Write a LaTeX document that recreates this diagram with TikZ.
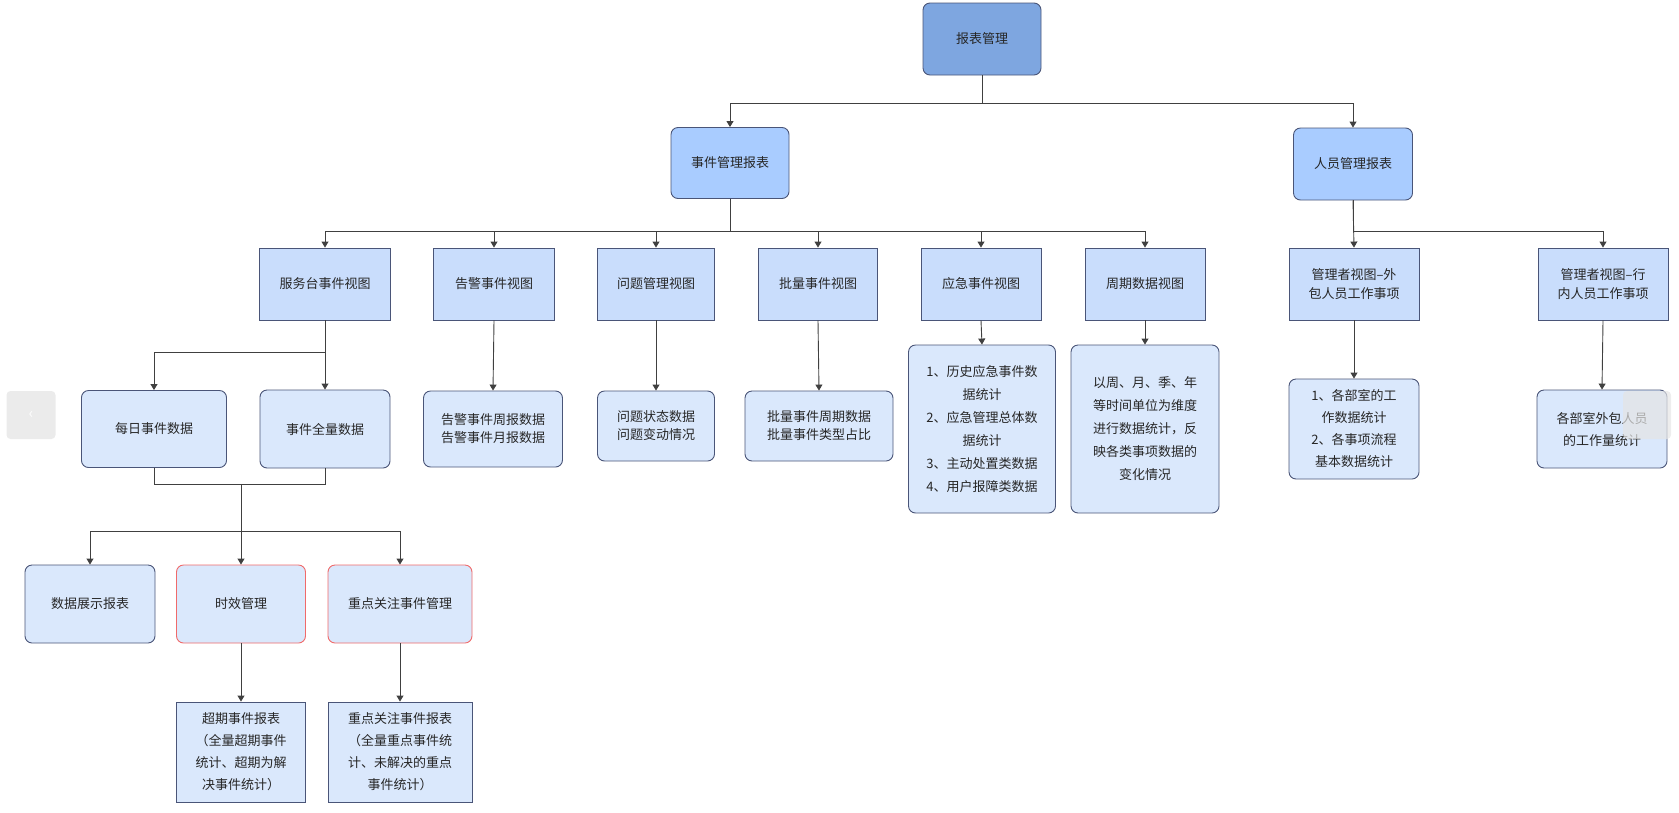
\documentclass[tikz,border=0pt]{standalone}
\usepackage{fontspec}
\setmainfont{Noto Sans CJK SC}
\usetikzlibrary{arrows.meta}
\definecolor{bd}{HTML}{4A5578}
\definecolor{ftop}{HTML}{7EA6E0}
\definecolor{fl2}{HTML}{A9CCFF}
\definecolor{fl3}{HTML}{C9DDFC}
\definecolor{fl4}{HTML}{DAE8FC}
\definecolor{rd}{HTML}{F06A6A}
\tikzset{
 box/.style={draw=bd,line width=0.9pt,align=center,font=\fontsize{13}{19}\selectfont,text=black!85,inner sep=2pt},
 rbox/.style={box,rounded corners=7pt},
 arr/.style={draw=black!75,line width=0.9pt,-{Triangle[width=7pt,length=6pt]}},
 ln/.style={draw=black!75,line width=0.9pt}
}
\begin{document}
\begin{tikzpicture}[x=1pt,y=-1pt]
\useasboundingbox (0,0) rectangle (1679,812);
\node[rbox,fill=ftop,minimum width=118,minimum height=72] (top) at (982,39) {报表管理};
\node[rbox,fill=fl2,minimum width=118,minimum height=71] (ev) at (730,163) {事件管理报表};
\node[rbox,fill=fl2,minimum width=119,minimum height=72] (ry) at (1353,164) {人员管理报表};
\foreach \n/\x/\w/\t in {fwt/325/131/服务台事件视图, gj/494/121/告警事件视图, wt/656/117/问题管理视图, pl/818/119/批量事件视图, yj/981/120/应急事件视图, zq/1145/120/周期数据视图}
  \node[box,fill=fl3,minimum width=\w,minimum height=72] (\n) at (\x,284) {\t};
\node[box,fill=fl3,minimum width=130,minimum height=72] (wb) at (1354,284) {管理者视图--外\\包人员工作事项};
\node[box,fill=fl3,minimum width=130,minimum height=72] (hn) at (1603,284) {管理者视图--行\\内人员工作事项};
\node[rbox,fill=fl4,minimum width=145,minimum height=77] (mr) at (154,429) {每日事件数据};
\node[rbox,fill=fl4,minimum width=130,minimum height=78] (ql) at (325,429) {事件全量数据};
\node[rbox,fill=fl4,minimum width=139,minimum height=76,font=\fontsize{13}{18}\selectfont] (gjb) at (493,429) {告警事件周报数据\\告警事件月报数据};
\node[rbox,fill=fl4,minimum width=117,minimum height=70,font=\fontsize{13}{18}\selectfont] (wtb) at (656,426) {问题状态数据\\问题变动情况};
\node[rbox,fill=fl4,minimum width=148,minimum height=70,font=\fontsize{13}{18}\selectfont] (plb) at (819,426) {批量事件周期数据\\批量事件类型占比};
\node[rbox,fill=fl4,minimum width=147,minimum height=168,font=\fontsize{13}{23}\selectfont] (yjb) at (982,429) {1、历史应急事件数\\据统计\\2、应急管理总体数\\据统计\\3、主动处置类数据\\4、用户报障类数据};
\node[rbox,fill=fl4,minimum width=148,minimum height=168,font=\fontsize{13}{23}\selectfont] (zqb) at (1145,429) {以周、月、季、年\\等时间单位为维度\\进行数据统计，反\\映各类事项数据的\\变化情况};
\node[rbox,fill=fl4,minimum width=130,minimum height=100,font=\fontsize{13}{22}\selectfont] (wbb) at (1354,429) {1、各部室的工\\作数据统计\\2、各事项流程\\基本数据统计};
\node[rbox,fill=fl4,minimum width=130,minimum height=78,font=\fontsize{13}{22}\selectfont] (hnb) at (1602,429) {各部室外包人员\\的工作量统计};
\node[rbox,fill=fl4,minimum width=130,minimum height=78] (sj) at (90,604) {数据展示报表};
\node[rbox,draw=rd,fill=fl4,minimum width=129,minimum height=78] (sx) at (241,604) {时效管理};
\node[rbox,draw=rd,fill=fl4,minimum width=144,minimum height=78] (zd) at (400,604) {重点关注事件管理};
\node[box,fill=fl4,minimum width=129,minimum height=100,font=\fontsize{13}{22}\selectfont] (cq) at (241,752) {超期事件报表\\（全量超期事件\\统计、超期为解\\决事件统计）};
\node[box,fill=fl4,minimum width=144,minimum height=100,font=\fontsize{13}{22}\selectfont] (zdb) at (400,752) {重点关注事件报表\\（全量重点事件统\\计、未解决的重点\\事件统计）};
\node[fill=black!8,rounded corners=4pt,minimum width=49,minimum height=48,text=white,font=\Large] (lb) at (31,415) {‹};
\node[fill=black!10,opacity=0.7,rounded corners=4pt,minimum width=48,minimum height=48] (rb) at (1647,415) {};
% connectors
\draw[arr] (top.south) |- ([yshift=24pt]ev.north) -- (ev.north);
\draw[arr] (top.south) |- ([yshift=24pt]ry.north) -- (ry.north);
\foreach \n in {fwt,gj,wt,pl,yj,zq}
  \draw[arr] (ev.south) |- ([yshift=16pt]\n.north) -- (\n.north);
\draw[arr] (ry.south) -- (wb.north);
\draw[arr] (ry.south) |- ([yshift=16pt]hn.north) -- (hn.north);
\draw[arr] (fwt.south) |- ([yshift=38pt]mr.north) -- (mr.north);
\draw[arr] (fwt.south) -- (ql.north);
\foreach \a/\b in {gj/gjb,wt/wtb,pl/plb,yj/yjb,zq/zqb,wb/wbb,hn/hnb,sx/cq,zd/zdb}
  \draw[arr] (\a.south) -- (\b.north);
\draw[ln] (mr.south) -- ++(0,16) -| (ql.south);
\draw[arr] ([yshift=-16pt]mr.south -| sx.north) -- (sx.north);
\draw[arr] ([yshift=33pt]sx.north) -| (sj.north);
\draw[arr] ([yshift=33pt]sx.north) -| (zd.north);
\end{tikzpicture}
\end{document}
